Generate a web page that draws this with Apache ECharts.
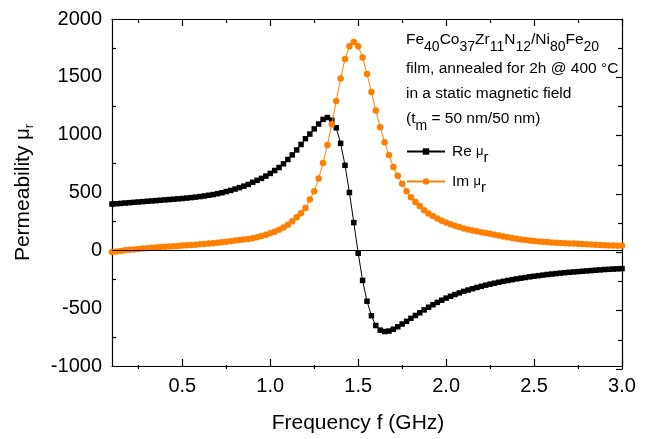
<!DOCTYPE html>
<html><head><meta charset="utf-8">
<script src="https://cdn.jsdelivr.net/npm/echarts@6/dist/echarts.min.js"></script>
<style>html,body{margin:0;padding:0;background:#fff}#c{width:658px;height:439px}</style>
</head><body><div id="c"></div>
<script>
const freq = [0.100,0.125,0.150,0.175,0.200,0.225,0.250,0.275,0.300,0.325,0.350,0.375,0.400,0.425,0.450,0.475,0.500,0.525,0.550,0.575,0.600,0.625,0.650,0.675,0.700,0.725,0.750,0.775,0.800,0.825,0.850,0.875,0.900,0.925,0.950,0.975,1.000,1.025,1.050,1.075,1.100,1.125,1.150,1.175,1.200,1.225,1.250,1.275,1.300,1.325,1.350,1.375,1.400,1.425,1.450,1.475,1.500,1.525,1.550,1.575,1.600,1.625,1.650,1.675,1.700,1.725,1.750,1.775,1.800,1.825,1.850,1.875,1.900,1.925,1.950,1.975,2.000,2.025,2.050,2.075,2.100,2.125,2.150,2.175,2.200,2.225,2.250,2.275,2.300,2.325,2.350,2.375,2.400,2.425,2.450,2.475,2.500,2.525,2.550,2.575,2.600,2.625,2.650,2.675,2.700,2.725,2.750,2.775,2.800,2.825,2.850,2.875,2.900,2.925,2.950,2.975,3.000];
const reMu = [400,403,406,409,412,415,418,421,424,427,430,433,436,439,442,445,448,452,456,460,465,470,476,482,490,498,508,518,530,542,555,570,588,605,622,642,665,690,716,748,785,825,868,915,965,1005,1050,1092,1132,1148,1125,1060,925,735,500,240,-25,-260,-440,-565,-650,-690,-702,-698,-682,-661,-637,-614,-588,-563,-540,-515,-492,-470,-450,-431,-413,-397,-382,-368,-355,-343,-332,-321,-311,-301,-292,-284,-276,-268,-261,-254,-247,-241,-235,-229,-224,-219,-214,-209,-205,-201,-197,-193,-190,-187,-184,-181,-178,-175,-172,-169,-166,-164,-162,-160,-158];
const imMu = [-15,-10,-5,0,4,8,12,16,19,22,25,28,31,33,36,38,41,43,46,49,52,55,58,62,66,70,75,79,84,89,94,99,105,114,124,135,148,161,177,197,222,252,285,320,365,440,510,620,755,910,1090,1290,1485,1655,1765,1802,1765,1668,1525,1368,1208,1065,935,825,720,645,575,510,460,418,383,347,318,296,275,256,240,225,212,201,188,180,172,164,157,150,143,135,128,120,113,106,100,94,89,84,80,77,74,71,68,66,64,62,60,58,56,54,52,50,48,46,44,42,41,40,39];
const xMajor = [0.5,1.0,1.5,2.0,2.5,3.0];
const xMinor = [0.25,0.75,1.25,1.75,2.25,2.75];
const seriesNames = ['Re','Im'];
const noteLines = [
  '{m|Fe}{s|40}{m|Co}{s|37}{m|Zr}{s|11}{m|N}{s|12}{m|/Ni}{s|80}{m|Fe}{s|20}',
  '{m|film, annealed for 2h @ 400 °C}',
  '{m|in a static magnetic field}',
  '{m|(t}{s|m}{m| = 50 nm/50 nm)}'
];

const FONT = "'Liberation Sans', Arial, sans-serif";
const BLACK = '#000';
const ORANGE = '#FF8000';
const noteRich = {
  m: {fontSize: 15.5, fontFamily: FONT, color: BLACK, lineHeight: 20},
  s: {fontSize: 14, fontFamily: FONT, color: BLACK, lineHeight: 20, padding: [14,0,0,0]}
};
const noteY = [40, 69, 94, 119];

const chart = echarts.init(document.getElementById('c'), null, {renderer: 'canvas'});
const G = {left: 112, right: 36, top: 19, bottom: 70};
const baseX = (gi, pos) => ({
  type: 'value', gridIndex: gi, position: pos, min: 0.1, max: 3.0,
  splitLine: {show: false}, axisLine: {show: false, onZero: false},
  axisTick: {show: false}, axisLabel: {show: false}
});
const baseY = (gi, pos) => ({
  type: 'value', gridIndex: gi, position: pos, min: -1000, max: 2000, interval: 500,
  splitLine: {show: false}, axisLine: {show: false, onZero: false},
  axisTick: {show: false}, axisLabel: {show: false}
});
const lineOn = {show: true, onZero: false, lineStyle: {color: BLACK, width: 1.2}};
const tickStyle = {color: BLACK, width: 1.2};

chart.setOption({
  animation: false,
  backgroundColor: '#fff',
  textStyle: {fontFamily: FONT},
  grid: [Object.assign({}, G), Object.assign({}, G), Object.assign({}, G), Object.assign({}, G)],
  xAxis: [
    Object.assign(baseX(0, 'bottom'), {
      axisLine: lineOn,
      axisTick: {show: true, inside: true, length: 7, customValues: xMajor, lineStyle: tickStyle},
      axisLabel: {show: true, customValues: xMajor, margin: 10, fontSize: 20, color: BLACK, fontFamily: FONT,
        formatter: v => Number(v).toFixed(1)},
      name: 'Frequency f (GHz)', nameLocation: 'middle', nameGap: 47,
      nameTextStyle: {fontSize: 21, color: BLACK, fontFamily: FONT, padding: [0, 18, 0, 0]}
    }),
    Object.assign(baseX(1, 'bottom'), {
      axisTick: {show: true, inside: true, length: 4, customValues: xMinor, lineStyle: tickStyle}
    }),
    Object.assign(baseX(2, 'top'), {
      axisLine: lineOn,
      axisTick: {show: true, inside: true, length: 7, customValues: xMajor, lineStyle: tickStyle}
    }),
    Object.assign(baseX(3, 'top'), {
      axisTick: {show: true, inside: true, length: 4, customValues: xMinor, lineStyle: tickStyle}
    })
  ],
  yAxis: [
    Object.assign(baseY(0, 'left'), {
      axisLine: lineOn,
      axisTick: {show: false, inside: true, length: 5},
      minorTick: {show: true, splitNumber: 2, length: 4, lineStyle: tickStyle},
      axisLabel: {show: true, margin: 10, fontSize: 20, color: BLACK, fontFamily: FONT, formatter: v => String(v)},
      name: '{m|Permeability }{g|μ}{s|r}', nameLocation: 'middle', nameGap: 77,
      nameTextStyle: {
        rich: {
          m: {fontSize: 21, fontFamily: FONT, color: BLACK, lineHeight: 24},
          g: {fontSize: 20, fontFamily: FONT, color: BLACK, lineHeight: 24},
          s: {fontSize: 13, fontFamily: FONT, color: BLACK, lineHeight: 24, padding: [12,0,0,0]}
        }
      }
    }),
    Object.assign(baseY(1, 'right'), {
      axisLine: lineOn,
      axisTick: {show: true, inside: true, length: 6, lineStyle: tickStyle},
      minorTick: {show: true, splitNumber: 2, length: 4, lineStyle: tickStyle}
    }),
    baseY(2, 'left'),
    baseY(3, 'left')
  ],
  legend: {
    left: 406, top: 138, orient: 'vertical', padding: 0,
    itemWidth: 38, itemHeight: 8, itemGap: 3,
    data: seriesNames,
    formatter: n => '{m|' + n + ' }{g|μ}{s|r}',
    textStyle: {
      padding: [0,0,0,2],
      rich: {
        m: {fontSize: 15.5, fontFamily: FONT, color: BLACK, lineHeight: 20},
        g: {fontSize: 13, fontFamily: FONT, color: BLACK, lineHeight: 20},
        s: {fontSize: 15, fontFamily: FONT, color: BLACK, lineHeight: 20, padding: [12,0,0,0]}
      }
    }
  },
  series: [
    {
      name: seriesNames[0], type: 'line', xAxisIndex: 0, yAxisIndex: 0,
      data: freq.map((f, i) => [f, reMu[i]]),
      symbol: 'rect', symbolSize: 5.5,
      itemStyle: {color: BLACK},
      lineStyle: {color: BLACK, width: 1},
      markLine: {
        silent: true, symbol: 'none', label: {show: false},
        lineStyle: {color: BLACK, width: 1.2, type: 'solid'},
        data: [{yAxis: 0}]
      },
      z: 2
    },
    {
      name: seriesNames[1], type: 'line', xAxisIndex: 0, yAxisIndex: 0,
      data: freq.map((f, i) => [f, imMu[i]]),
      symbol: 'circle', symbolSize: 6.5,
      itemStyle: {color: ORANGE},
      lineStyle: {color: ORANGE, width: 1},
      z: 3
    }
  ],
  graphic: noteLines.map((t, i) => ({
    type: 'text', x: 406, y: noteY[i], z: 10,
    style: {text: t, rich: noteRich, verticalAlign: 'middle', align: 'left'}
  }))
});
</script></body></html>
